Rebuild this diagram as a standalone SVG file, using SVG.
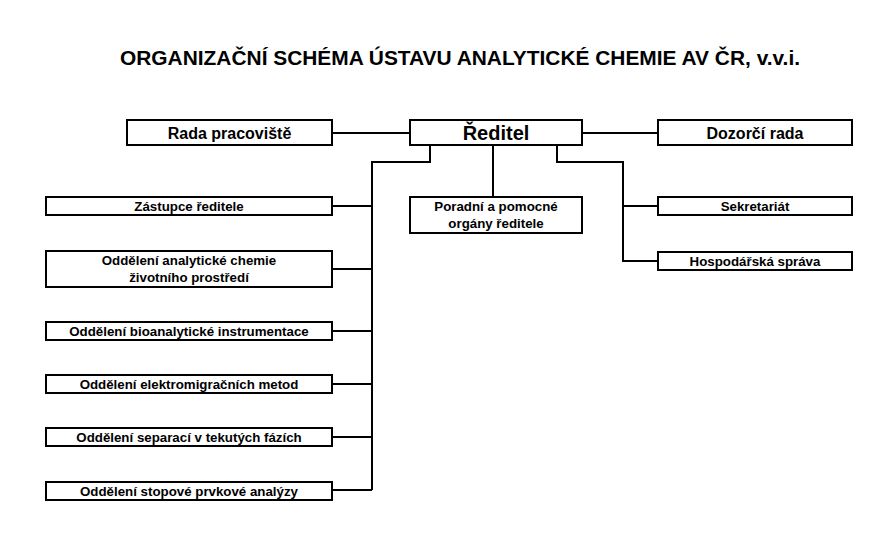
<svg xmlns="http://www.w3.org/2000/svg" width="894" height="558" viewBox="0 0 894 558">
<style>
rect{fill:#fff;stroke:#000;stroke-width:2}
.c path{fill:none;stroke:#000;stroke-width:2}
text{font-family:"Liberation Sans",Arial,sans-serif;font-weight:bold;fill:#000;text-anchor:middle}
.s{font-size:13.3px}
.m{font-size:16px}
</style>
<rect width="894" height="558" style="stroke:none"/>
<text x="460" y="65" style="font-size:21px" textLength="680" lengthAdjust="spacingAndGlyphs">ORGANIZAČNÍ SCHÉMA ÚSTAVU ANALYTICKÉ CHEMIE AV ČR, v.v.i.</text>
<g class="c">
<path d="M332 133H410M582 133H658"/>
<path d="M430 145V162H372V490"/>
<path d="M493 145V197"/>
<path d="M557 145V162H623V261H658M623 206H658"/>
<path d="M332 206H372M332 269H372M332 331H372M332 384H372M332 437H372M332 490H372"/>
</g>
<g id="rada"><rect x="127" y="120" width="205" height="25"/><text class="m" x="229.5" y="138.5">Rada pracoviště</text></g>
<g id="reditel"><rect x="410" y="120" width="172" height="25"/><text x="496" y="140" style="font-size:20px">Ředitel</text></g>
<g id="dozorci"><rect x="658" y="120" width="194" height="25"/><text class="m" x="755" y="138.5">Dozorčí rada</text></g>
<g id="poradni"><rect x="410" y="197" width="172" height="36"/><text class="s" x="496" y="211">Poradní a pomocné</text><text class="s" x="496" y="228">orgány ředitele</text></g>
<g id="sekretariat"><rect x="658" y="197" width="194" height="18"/><text class="s" x="755" y="210.5">Sekretariát</text></g>
<g id="hospodarska"><rect x="658" y="252" width="194" height="18"/><text class="s" x="755" y="265.5">Hospodářská správa</text></g>
<g id="zastupce"><rect x="46" y="197" width="286" height="18"/><text class="s" x="189" y="210.5">Zástupce ředitele</text></g>
<g id="oach"><rect x="46" y="251" width="286" height="36"/><text class="s" x="189" y="265">Oddělení analytické chemie</text><text class="s" x="189" y="282">životního prostředí</text></g>
<g id="obi"><rect x="46" y="322" width="286" height="18"/><text class="s" x="189" y="335.5">Oddělení bioanalytické instrumentace</text></g>
<g id="oem"><rect x="46" y="375" width="286" height="18"/><text class="s" x="189" y="388.5">Oddělení elektromigračních metod</text></g>
<g id="osep"><rect x="46" y="428" width="286" height="18"/><text class="s" x="189" y="441.5">Oddělení separací v tekutých fázích</text></g>
<g id="ospa"><rect x="46" y="482" width="286" height="18"/><text class="s" x="189" y="495.5">Oddělení stopové prvkové analýzy</text></g>
</svg>
